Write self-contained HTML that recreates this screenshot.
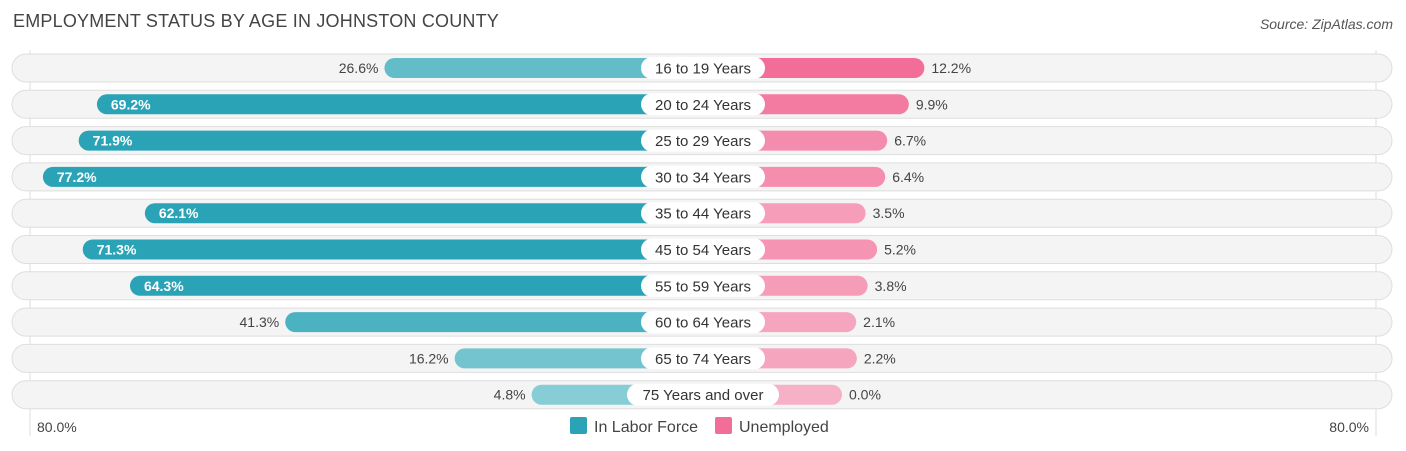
<!DOCTYPE html>
<html><head><meta charset="utf-8"><style>
body{margin:0;background:#fff;font-family:"Liberation Sans",sans-serif;}
#c{position:relative;width:1406px;height:451px;overflow:hidden;}
.t{position:absolute;left:13px;top:11px;font-size:18px;color:#444;letter-spacing:0.2px}
.s{position:absolute;right:13px;top:16px;font-size:14px;color:#555;font-style:italic}
</style></head><body>
<div id="c">
<div class="t">EMPLOYMENT STATUS BY AGE IN JOHNSTON COUNTY</div>
<div class="s">Source: ZipAtlas.com</div>
<svg id="svg" width="1406" height="451" style="position:absolute;left:0;top:0"></svg>
</div>
<script>
const categories=["16 to 19 Years","20 to 24 Years","25 to 29 Years","30 to 34 Years","35 to 44 Years","45 to 54 Years","55 to 59 Years","60 to 64 Years","65 to 74 Years","75 Years and over"];
const laborForce=[26.6,69.2,71.9,77.2,62.1,71.3,64.3,41.3,16.2,4.8];
const unemployed=[12.2,9.9,6.7,6.4,3.5,5.2,3.8,2.1,2.2,0.0];
const axisLabels=["80.0%","80.0%"];
const NS="http://www.w3.org/2000/svg";
const svg=document.getElementById('svg');
const cx=703, gap=139, k=6.75, y0=68, step=36.3;
function xs(v){return v*k;}
function mix(a,b,t){const p=s=>[1,3,5].map(i=>parseInt(s.substr(i,2),16));const A=p(a),B=p(b);return 'rgb('+A.map((x,i)=>Math.round(x+(B[i]-x)*t)).join(',')+')';}
function el(tag,attrs,parent){const e=document.createElementNS(NS,tag);for(const a in attrs)e.setAttribute(a,attrs[a]);(parent||svg).appendChild(e);return e;}
let g1=el('line',{x1:30,x2:30,y1:50,y2:436,stroke:'#ddd','stroke-width':1});

let g2=el('line',{x1:1376,x2:1376,y1:50,y2:436,stroke:'#ddd','stroke-width':1});

const maxU=Math.max(...unemployed);
categories.forEach((c,i)=>{
  const y=y0+i*step;
  const g=el('g',{});
  
  
  const bg=el('rect',{x:12,y:y-14,width:1380,height:28,rx:14,fill:'#f4f4f4',stroke:'#dedede','stroke-width':1},g);
  
  const lv=laborForce[i], lw=gap+xs(lv);
  const lb=el('rect',{x:cx-lw,y:y-10,width:lw,height:20,rx:10,fill:mix('#8ed0d8','#2aa3b6',Math.min(1,lv/62))},g);
  
  const uv=unemployed[i], uw=gap+xs(uv);
  const ub=el('rect',{x:cx,y:y-10,width:uw,height:20,rx:10,fill:mix('#f7b1c7','#f26d97',uv/maxU)},g);
  
  const inside=lv>55;
  const lt=el('text',{x:inside?cx-lw+14:cx-lw-6,y:y+5,'font-size':14,fill:inside?'#fff':'#444','text-anchor':inside?'start':'end','font-weight':inside?'bold':'normal'},g);
  lt.textContent=lv.toFixed(1)+'%';
  const ut=el('text',{x:cx+uw+7,y:y+5,'font-size':14,fill:'#444'},g);
  ut.textContent=uv.toFixed(1)+'%';
  const pw=c.length>14?152:124;
  const pill=el('rect',{x:cx-pw/2,y:y-11,width:pw,height:22,rx:11,fill:'#fff'},g);
  
  const ct=el('text',{x:cx,y:y+5.5,'font-size':15,fill:'#333','text-anchor':'middle'},g);
  ct.textContent=c;
});
const a1=el('text',{x:37,y:432,'font-size':14,fill:'#444'});a1.textContent=axisLabels[0];

const a2=el('text',{x:1369,y:432,'font-size':14,fill:'#444','text-anchor':'end'});a2.textContent=axisLabels[1];

const legend=[["In Labor Force","#2aa3b6",570],["Unemployed","#f26d97",715]];
legend.forEach(l=>{
  const r=el('rect',{x:l[2],y:417,width:17,height:17,rx:2,fill:l[1]});
  
  const t=el('text',{x:l[2]+24,y:432,'font-size':16,fill:'#444'});t.textContent=l[0];
  
});
</script>
</body></html>
